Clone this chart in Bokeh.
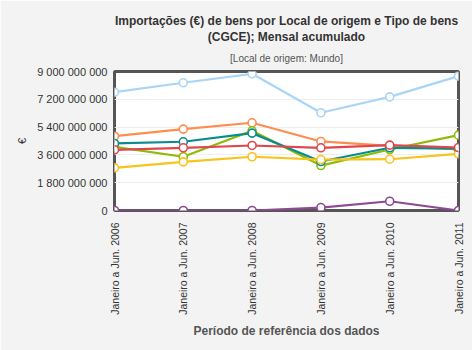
from math import pi
from bokeh.plotting import figure
from bokeh.models import Title, FixedTicker, Range1d
from bokeh.embed import file_html
from bokeh.resources import INLINE

periods = ["Janeiro a Jun. 2006", "Janeiro a Jun. 2007", "Janeiro a Jun. 2008",
           "Janeiro a Jun. 2009", "Janeiro a Jun. 2010", "Janeiro a Jun. 2011"]
y_ticks = [0, 1.8e9, 3.6e9, 5.4e9, 7.2e9, 9.0e9]
y_tick_labels = ["0", "1 800 000 000", "3 600 000 000", "5 400 000 000", "7 200 000 000", "9 000 000 000"]

s_lightblue = [7.66e9, 8.27e9, 8.85e9, 6.33e9, 7.36e9, 8.70e9]
s_orange = [4.81e9, 5.27e9, 5.68e9, 4.47e9, 4.19e9, 3.95e9]
s_green = [4.12e9, 3.48e9, 5.16e9, 2.91e9, 3.95e9, 4.88e9]
s_teal = [4.34e9, 4.45e9, 5.01e9, 3.17e9, 4.06e9, 4.00e9]
s_yellow = [2.76e9, 3.15e9, 3.48e9, 3.30e9, 3.32e9, 3.67e9]
s_red = [3.93e9, 4.06e9, 4.21e9, 4.06e9, 4.23e9, 4.08e9]
s_purple = [0.0, 0.0, 0.0, 0.19e9, 0.60e9, 0.0]

series = [
    (s_lightblue, "#a9d5f7"),
    (s_orange, "#ff8d4f"),
    (s_green, "#8dbb06"),
    (s_teal, "#0a8c8f"),
    (s_yellow, "#f7c31c"),
    (s_red, "#de474e"),
    (s_purple, "#8e4a95"),
]

x = list(range(len(periods)))

p = figure(width=472, height=350, output_backend="svg", toolbar_location=None,
           x_range=Range1d(0, len(periods) - 1), y_range=Range1d(0, 9.0e9),
           min_border_left=114, min_border_right=14, min_border_top=71,
           min_border_bottom=140)

p.border_fill_color = "#f3f3f3"
p.background_fill_color = "white"
p.outline_line_color = "#555555"
p.outline_line_width = 3

font = "Liberation Sans"
p.add_layout(Title(text="[Local de origem: Mundo]", align="center", text_font=font,
                   text_font_size="10px", text_font_style="normal", text_color="#555555",
                   standoff=15), "above")
p.add_layout(Title(text="(CGCE); Mensal acumulado", align="center", text_font=font,
                   text_font_size="12px", text_font_style="bold", text_color="#333333",
                   standoff=0), "above")
p.add_layout(Title(text="Importações (€) de bens por Local de origem e Tipo de bens", align="center",
                   text_font=font, text_font_size="12px", text_font_style="bold",
                   text_color="#333333", standoff=0), "above")

for vals, col in series:
    p.line(x, vals, line_color=col, line_width=2.2)
    p.scatter(x, vals, size=8, fill_color="white", line_color=col, line_width=1.6)

# y axis
p.yaxis.ticker = FixedTicker(ticks=y_ticks)
p.yaxis.major_label_overrides = {t: l for t, l in zip(y_ticks, y_tick_labels)}
p.yaxis.axis_line_color = None
p.yaxis.major_tick_line_color = None
p.yaxis.minor_tick_line_color = None
p.yaxis.major_label_text_font = font
p.yaxis.major_label_text_font_size = "11px"
p.yaxis.major_label_text_color = "#333333"
p.yaxis.major_label_standoff = 1
p.yaxis.axis_label = "€"
p.yaxis.axis_label_text_font = font
p.yaxis.axis_label_text_font_size = "11px"
p.yaxis.axis_label_text_font_style = "normal"
p.yaxis.axis_label_text_color = "#333333"
p.yaxis.axis_label_standoff = 6

# x axis
p.xaxis.ticker = FixedTicker(ticks=x)
p.xaxis.major_label_overrides = {i: l for i, l in zip(x, periods)}
p.xaxis.major_label_orientation = pi / 2
p.xaxis.axis_line_color = None
p.xaxis.major_tick_line_color = None
p.xaxis.minor_tick_line_color = None
p.xaxis.major_label_text_font = font
p.xaxis.major_label_text_font_size = "10.5px"
p.xaxis.major_label_text_color = "#333333"
p.xaxis.major_label_standoff = 6
p.xaxis.axis_label = "Período de referência dos dados"
p.xaxis.axis_label_text_font = font
p.xaxis.axis_label_text_font_size = "12px"
p.xaxis.axis_label_text_font_style = "bold"
p.xaxis.axis_label_text_color = "#555555"
p.xaxis.axis_label_standoff = 6

p.xgrid.grid_line_color = None
p.ygrid.grid_line_color = "#eeeeee"
p.ygrid.grid_line_width = 1

open("out.html", "w").write(file_html(p, INLINE))
